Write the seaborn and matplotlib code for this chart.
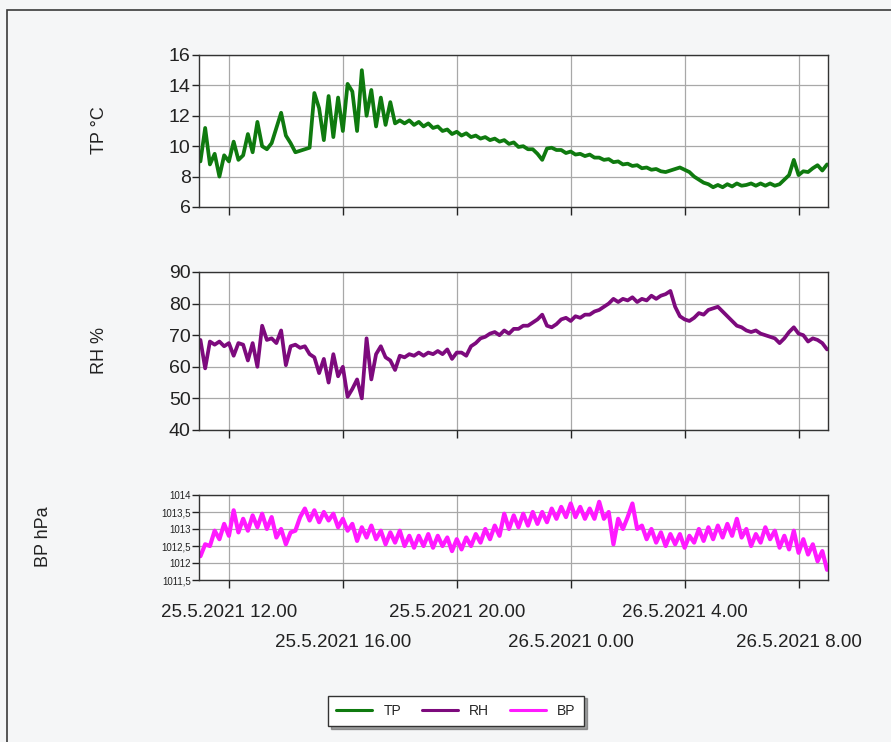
import matplotlib
matplotlib.use("Agg")
import matplotlib.pyplot as plt
from matplotlib.lines import Line2D
from matplotlib.patches import Rectangle
import seaborn as sns
import pandas as pd

# =========================
# DATA (10 min readings, 25.5.2021 11.00 -> 26.5.2021 9.00)
# =========================
times = pd.date_range("2021-05-25 11:00", "2021-05-26 09:00", freq="10min")

tp = [9.0, 11.2, 8.8, 9.5, 8.0, 9.4, 9.0, 10.3, 9.1, 9.4,
      10.8, 9.6, 11.6, 10.0, 9.8, 10.2, 11.2, 12.2, 10.7, 10.2,
      9.6, 9.7, 9.8, 9.9, 13.5, 12.5, 10.4, 13.3, 10.6, 13.2,
      11.0, 14.1, 13.6, 11.0, 15.0, 12.0, 13.7, 11.3, 13.2, 11.4,
      12.9, 11.5, 11.7, 11.5, 11.7, 11.4, 11.6, 11.3, 11.5, 11.2,
      11.3, 11.0, 11.1, 10.8, 10.95, 10.7, 10.85, 10.6, 10.7, 10.5,
      10.6, 10.4, 10.5, 10.3, 10.4, 10.15, 10.25, 9.95, 10.0, 9.8,
      9.8, 9.5, 9.1, 9.85, 9.9, 9.75, 9.75, 9.55, 9.65, 9.45,
      9.5, 9.35, 9.45, 9.25, 9.25, 9.1, 9.15, 8.95, 9.0, 8.8,
      8.85, 8.7, 8.75, 8.55, 8.6, 8.45, 8.5, 8.35, 8.3, 8.4,
      8.5, 8.6, 8.45, 8.3, 8.0, 7.8, 7.6, 7.5, 7.3, 7.45,
      7.3, 7.5, 7.35, 7.55, 7.4, 7.45, 7.55, 7.4, 7.55, 7.4,
      7.55, 7.4, 7.5, 7.8, 8.1, 9.1, 8.1, 8.35, 8.3, 8.55,
      8.75, 8.4, 8.8]

rh = [68.5, 59.5, 68.0, 67.0, 68.0, 66.5, 67.5, 63.5, 67.5, 67.0,
      62.0, 67.5, 60.0, 73.0, 68.5, 69.0, 67.5, 71.5, 60.5, 66.5,
      67.0, 66.0, 66.5, 64.0, 63.0, 58.0, 62.5, 55.0, 64.0, 57.0,
      60.0, 50.5, 53.0, 56.0, 50.0, 69.0, 56.0, 64.0, 66.5, 63.0,
      62.0, 59.0, 63.5, 63.0, 64.0, 63.5, 64.5, 63.5, 64.5, 64.0,
      65.0, 64.0, 65.5, 62.5, 64.5, 64.5, 63.5, 66.5, 67.5, 69.0,
      69.5, 70.5, 71.0, 70.0, 71.5, 70.5, 72.0, 72.0, 73.0, 73.0,
      74.0, 75.0, 76.5, 73.0, 72.5, 73.5, 75.0, 75.5, 74.5, 76.0,
      75.5, 76.5, 76.5, 77.5, 78.0, 79.0, 80.0, 81.5, 80.5, 81.5,
      81.0, 82.0, 80.5, 81.5, 81.0, 82.5, 81.5, 82.5, 83.0, 84.0,
      79.0, 76.0, 75.0, 74.5, 75.5, 77.0, 76.5, 78.0, 78.5, 79.0,
      77.5, 76.0, 74.5, 73.0, 72.5, 71.5, 71.0, 71.5, 70.5, 70.0,
      69.5, 69.0, 67.5, 69.0, 71.0, 72.5, 70.5, 70.0, 68.0, 69.0,
      68.5, 67.5, 65.5]

bp = [1012.2, 1012.55, 1012.5, 1012.95, 1012.7, 1013.15, 1012.8, 1013.55, 1012.9, 1013.3,
      1012.95, 1013.4, 1013.05, 1013.45, 1013.0, 1013.35, 1012.75, 1013.0, 1012.55, 1012.9,
      1012.95, 1013.35, 1013.6, 1013.25, 1013.55, 1013.2, 1013.5, 1013.25, 1013.45, 1013.05,
      1013.3, 1012.95, 1013.15, 1012.65, 1013.05, 1012.75, 1013.1, 1012.7, 1012.95, 1012.55,
      1012.9, 1012.6, 1012.95, 1012.5, 1012.8, 1012.45, 1012.8, 1012.5, 1012.85, 1012.45,
      1012.8, 1012.5, 1012.75, 1012.35, 1012.7, 1012.4, 1012.75, 1012.5, 1012.85, 1012.6,
      1013.0, 1012.7, 1013.1, 1012.8, 1013.45, 1013.0, 1013.4, 1013.05, 1013.45, 1013.1,
      1013.5, 1013.15, 1013.5, 1013.2, 1013.6, 1013.3, 1013.65, 1013.35, 1013.75, 1013.35,
      1013.65, 1013.3, 1013.6, 1013.3, 1013.8, 1013.3, 1013.5, 1012.55, 1013.3, 1013.0,
      1013.35, 1013.75, 1013.0, 1013.1, 1012.7, 1013.0, 1012.6, 1012.9, 1012.5, 1012.85,
      1012.55, 1012.85, 1012.45, 1012.8, 1012.6, 1013.0, 1012.65, 1013.05, 1012.7, 1013.1,
      1012.75, 1013.15, 1012.8, 1013.3, 1012.75, 1013.0, 1012.5, 1012.85, 1012.6, 1013.05,
      1012.7, 1012.95, 1012.45, 1012.8, 1012.4, 1012.95, 1012.3, 1012.7, 1012.25, 1012.55,
      1012.05, 1012.35, 1011.8]

major_ticks = pd.to_datetime(["2021-05-25 12:00", "2021-05-25 20:00", "2021-05-26 04:00"])
major_labels = ["25.5.2021 12.00", "25.5.2021 20.00", "26.5.2021 4.00"]
minor_ticks = pd.to_datetime(["2021-05-25 16:00", "2021-05-26 00:00", "2021-05-26 08:00"])
minor_labels = ["25.5.2021 16.00", "26.5.2021 0.00", "26.5.2021 8.00"]

tp_ticks = [6, 8, 10, 12, 14, 16]
rh_ticks = [40, 50, 60, 70, 80, 90]
bp_ticks = [1011.5, 1012, 1012.5, 1013, 1013.5, 1014]
bp_labels = ["1011,5", "1012", "1012,5", "1013", "1013,5", "1014"]

series_names = ["TP", "RH", "BP"]
series_colors = ["#0f7a0f", "#7d0a7d", "#ff1aff"]

# =========================
# STYLE
# =========================
sns.set_theme(style="white")
plt.rcParams["font.family"] = ["Liberation Sans", "DejaVu Sans"]

fig = plt.figure(figsize=(8.91, 7.42), dpi=100)
fig.patch.set_facecolor("#f5f6f7")

# window frame line (top/left)
fig.patches.append(Rectangle((7 / 891, -0.1), 1.2, 1 - 9.5 / 742 + 0.1,
                             transform=fig.transFigure, fill=False,
                             edgecolor="#3a3a3a", linewidth=1.2))

L, W = 199 / 891, 629 / 891
ax_tp = fig.add_axes([L, 1 - 207 / 742, W, 152 / 742])
ax_rh = fig.add_axes([L, 1 - 430 / 742, W, 158 / 742])
ax_bp = fig.add_axes([L, 1 - 580 / 742, W, 85 / 742])

df = pd.DataFrame({"time": times, "TP": tp, "RH": rh, "BP": bp})

for ax, name, col, lw in zip([ax_tp, ax_rh, ax_bp], series_names, series_colors, [2.7, 2.7, 3.0]):
    sns.lineplot(data=df, x="time", y=name, ax=ax, color=col, linewidth=lw)
    ax.set_facecolor("white")
    ax.set_xlim(pd.Timestamp("2021-05-25 10:57"), pd.Timestamp("2021-05-26 09:02"))
    ax.set_xticks(major_ticks)
    ax.set_xticks(minor_ticks, minor=True)
    ax.grid(True, which="both", axis="x", color="#a8a8a8", linewidth=0.9)
    ax.grid(True, which="major", axis="y", color="#a8a8a8", linewidth=0.9)
    ax.tick_params(axis="x", which="both", direction="out", length=6, width=1,
                   color="#222222", bottom=True)
    ax.tick_params(axis="y", direction="out", length=5, width=1, color="#222222",
                   left=True, labelsize=14, pad=1)
    ax.set_xlabel("")
    ax.set_ylabel("")
    for s in ax.spines.values():
        s.set_color("#333333")
        s.set_linewidth(1.0)
    if ax is not ax_bp:
        ax.set_xticklabels([])
        ax.set_xticklabels([], minor=True)

ax_tp.set_ylim(6, 16)
ax_tp.set_yticks(tp_ticks)
ax_rh.set_ylim(40, 90)
ax_rh.set_yticks(rh_ticks)
ax_bp.set_ylim(1011.5, 1014)
ax_bp.set_yticks(bp_ticks)
ax_bp.set_yticklabels(bp_labels)
ax_bp.tick_params(axis="y", labelsize=7, pad=1)

ax_bp.set_xticklabels(major_labels, fontsize=13.5, color="#222222")
ax_bp.set_xticklabels(minor_labels, minor=True, fontsize=13.5, color="#222222")
ax_bp.tick_params(axis="x", which="major", pad=11)
ax_bp.tick_params(axis="x", which="minor", pad=33)

for ax in [ax_tp, ax_rh, ax_bp]:
    for lab in ax.get_yticklabels():
        lab.set_color("#222222")

fig.text(100 / 891, 1 - 130 / 742, "TP °C", rotation=90, ha="center", va="center",
         fontsize=13, color="#222222")
fig.text(100 / 891, 1 - 350 / 742, "RH %", rotation=90, ha="center", va="center",
         fontsize=13, color="#222222")
fig.text(43 / 891, 1 - 537 / 742, "BP hPa", rotation=90, ha="center", va="center",
         fontsize=13, color="#222222")

handles = [Line2D([0], [0], color=c, linewidth=2.2) for c in series_colors]
leg = fig.legend(handles, series_names, loc="center", bbox_to_anchor=(456 / 891, 1 - 711 / 742),
                 ncol=3, fontsize=10, frameon=True, fancybox=False, shadow=True,
                 edgecolor="#333333", handlelength=2.6, columnspacing=1.5, borderpad=0.6)
leg.get_frame().set_facecolor("white")
leg.get_frame().set_linewidth(1.0)

fig.savefig("out.png", dpi=100, facecolor=fig.get_facecolor())
